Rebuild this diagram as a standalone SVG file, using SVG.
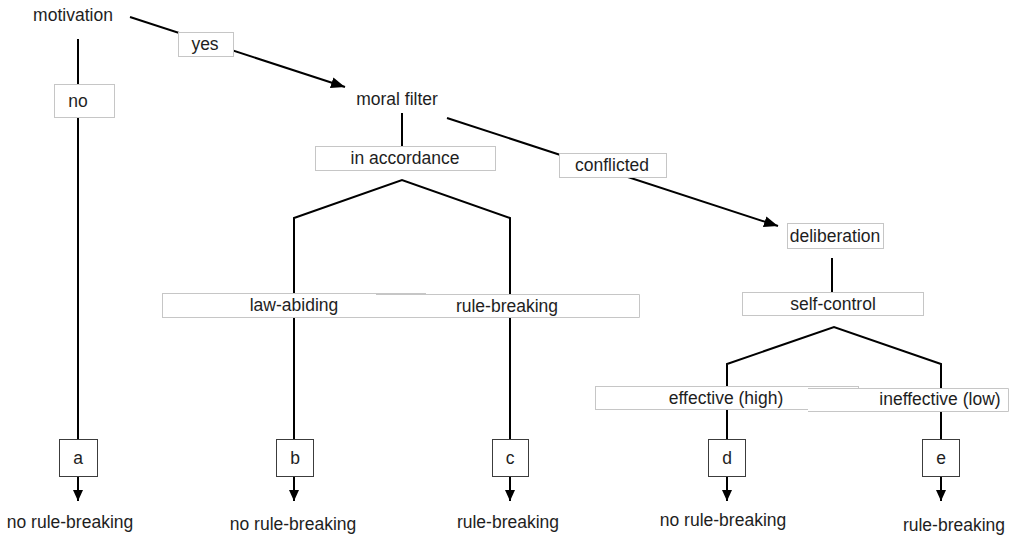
<svg xmlns="http://www.w3.org/2000/svg" width="1011" height="536" viewBox="0 0 1011 536">
<style>
text{font-family:"Liberation Sans",Arial,sans-serif;font-size:17.5px;fill:#1e1e1e;text-anchor:middle}
.ln{fill:none;stroke:#000;stroke-width:2}
.lbl{fill:#fff;stroke:#c6c6c6;stroke-width:1}
.fill{fill:#fff;stroke:none}
.edge{fill:none;stroke:#c6c6c6;stroke-width:1}
.out{fill:#fff;stroke:#3c3c3c;stroke-width:1}
</style>
<defs>
<marker id="ah" markerUnits="userSpaceOnUse" markerWidth="14" markerHeight="11" refX="14" refY="5.5" orient="auto"><path d="M0,0 L14,5.5 L0,11 z" fill="#000"/></marker>
<marker id="ahs" markerUnits="userSpaceOnUse" markerWidth="11" markerHeight="10" refX="11" refY="5" orient="auto"><path d="M0,0 L11,5 L0,10 z" fill="#000"/></marker>
</defs>
<rect width="1011" height="536" fill="#fff"/>
<g id="connectors">
<line class="ln" x1="130" y1="17" x2="345" y2="87" marker-end="url(#ah)"/>
<line class="ln" x1="78" y1="39" x2="78" y2="439"/>
<line class="ln" x1="402" y1="113" x2="402" y2="146"/>
<line class="ln" x1="447" y1="118" x2="778" y2="226" marker-end="url(#ah)"/>
<polyline class="ln" points="294,439 294,218 402,180 510,218 510,439"/>
<line class="ln" x1="832" y1="258" x2="832" y2="292"/>
<polyline class="ln" points="727,439 727,364 834,327 941,364 941,439"/>
<line class="ln" x1="78" y1="476" x2="78" y2="501" marker-end="url(#ahs)"/>
<line class="ln" x1="294" y1="476" x2="294" y2="501" marker-end="url(#ahs)"/>
<line class="ln" x1="510" y1="476" x2="510" y2="501" marker-end="url(#ahs)"/>
<line class="ln" x1="727" y1="476" x2="727" y2="501" marker-end="url(#ahs)"/>
<line class="ln" x1="941" y1="476" x2="941" y2="501" marker-end="url(#ahs)"/>
</g>
<g id="motivation"><text x="73" y="21">motivation</text></g>
<g id="yes"><rect class="lbl" x="178.5" y="32.5" width="55" height="24"/><text x="205" y="50">yes</text></g>
<g id="no"><rect class="lbl" x="54.5" y="84.5" width="60" height="33"/><text x="78" y="107">no</text></g>
<g id="moral-filter"><text x="397" y="105">moral filter</text></g>
<g id="in-accordance"><rect class="lbl" x="315.5" y="146.5" width="180" height="24"/><text x="405" y="164">in accordance</text></g>
<g id="conflicted"><rect class="lbl" x="559.5" y="153.5" width="107" height="24"/><text x="612" y="171">conflicted</text></g>
<g id="law-abiding"><rect class="lbl" x="162.5" y="293.5" width="263" height="24"/><text x="294" y="311">law-abiding</text></g>
<g id="rule-breaking-label"><rect class="fill" x="376" y="294" width="264" height="24"/><path class="edge" d="M376,294.5 H639.5 V317.5 H376"/><text x="507" y="312">rule-breaking</text></g>
<g id="deliberation"><rect class="lbl" x="787.5" y="223.5" width="96" height="25"/><text x="835" y="242">deliberation</text></g>
<g id="self-control"><rect class="lbl" x="742.5" y="292.5" width="181" height="23"/><text x="833" y="310">self-control</text></g>
<g id="effective"><rect class="lbl" x="595.5" y="386.5" width="263" height="23"/><text x="726" y="404">effective (high)</text></g>
<g id="ineffective"><rect class="fill" x="808" y="388" width="201" height="24"/><path class="edge" d="M808,388.5 H1008.5 V411.5 H808"/><text x="940" y="405">ineffective (low)</text></g>
<g id="a"><rect class="out" x="59.5" y="439.5" width="38" height="37"/><text x="78" y="464">a</text><text x="70" y="528">no rule-breaking</text></g>
<g id="b"><rect class="out" x="276.5" y="439.5" width="37" height="37"/><text x="295" y="464">b</text><text x="293" y="530">no rule-breaking</text></g>
<g id="c"><rect class="out" x="492.5" y="439.5" width="36" height="37"/><text x="510" y="464">c</text><text x="508" y="528">rule-breaking</text></g>
<g id="d"><rect class="out" x="708.5" y="439.5" width="37" height="37"/><text x="727" y="464">d</text><text x="723" y="526">no rule-breaking</text></g>
<g id="e"><rect class="out" x="922.5" y="439.5" width="37" height="37"/><text x="941" y="464">e</text><text x="954" y="531">rule-breaking</text></g>
</svg>
